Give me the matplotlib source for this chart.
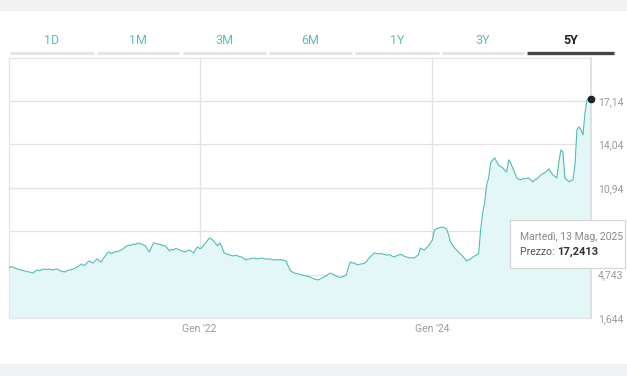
import matplotlib
matplotlib.use("Agg")
import matplotlib.pyplot as plt
from matplotlib.patches import Rectangle
import pandas as pd

plt.rcParams['font.family'] = ['Roboto', 'DejaVu Sans']

# ---- data ----
start_date = "2020-05-13"
end_date = "2025-05-13"
prices = [
    5.22, 5.30, 5.29, 5.20, 5.14, 5.12, 5.07, 5.03, 5.00, 4.95, 4.93, 4.90, 4.86, 4.98, 5.07, 5.02,
    5.07, 5.12, 5.14, 5.09, 5.14, 5.10, 5.07, 5.12, 5.14, 5.05, 5.00, 4.95, 4.93, 5.02, 5.07, 5.10,
    5.14, 5.20, 5.29, 5.38, 5.50, 5.40, 5.43, 5.60, 5.72, 5.62, 5.57, 5.75, 5.86, 5.70, 5.64, 5.90,
    6.07, 6.30, 6.36, 6.25, 6.29, 6.40, 6.36, 6.45, 6.50, 6.60, 6.72, 6.80, 6.86, 6.82, 6.93, 6.88,
    7.00, 6.95, 6.93, 6.85, 6.79, 6.55, 6.36, 6.70, 7.00, 6.98, 6.93, 6.90, 6.86, 6.80, 6.79, 6.60,
    6.43, 6.55, 6.50, 6.60, 6.57, 6.50, 6.43, 6.40, 6.36, 6.45, 6.50, 6.38, 6.29, 6.55, 6.72, 6.60,
    6.64, 6.85, 7.00, 7.20, 7.36, 7.25, 7.14, 6.95, 6.79, 7.00, 6.75, 6.35, 6.22, 6.20, 6.14, 6.10,
    6.07, 6.12, 6.07, 6.02, 6.00, 5.90, 5.79, 5.85, 5.86, 5.90, 5.93, 5.88, 5.86, 5.90, 5.93, 5.88,
    5.86, 5.84, 5.86, 5.82, 5.79, 5.80, 5.79, 5.81, 5.79, 5.76, 5.72, 5.40, 5.07, 4.95, 4.86, 4.82,
    4.79, 4.75, 4.71, 4.68, 4.64, 4.60, 4.57, 4.50, 4.43, 4.40, 4.36, 4.43, 4.50, 4.58, 4.64, 4.75,
    4.86, 4.78, 4.71, 4.64, 4.57, 4.55, 4.57, 4.62, 4.71, 5.20, 5.64, 5.58, 5.57, 5.48, 5.43, 5.50,
    5.50, 5.55, 5.64, 5.85, 6.00, 6.15, 6.29, 6.25, 6.22, 6.26, 6.22, 6.18, 6.14, 6.16, 6.14, 6.05,
    6.00, 6.08, 6.14, 6.18, 6.14, 6.05, 6.00, 5.96, 5.93, 5.95, 5.93, 6.05, 6.14, 6.64, 6.55, 6.50,
    6.65, 6.79, 7.00, 7.22, 7.93, 8.00, 8.07, 8.10, 8.14, 8.08, 8.00, 7.60, 7.07, 6.85, 6.64, 6.50,
    6.36, 6.20, 6.07, 5.90, 5.72, 5.80, 5.86, 5.98, 6.07, 6.15, 6.22, 7.93, 9.14, 9.86, 11.14, 11.64,
    12.71, 12.93, 13.07, 12.80, 12.57, 12.45, 12.36, 12.20, 12.07, 12.93, 12.70, 12.36, 12.00, 11.64, 11.55, 11.50,
    11.60, 11.57, 11.62, 11.64, 11.50, 11.36, 11.50, 11.57, 11.70, 11.86, 11.95, 12.00, 12.15, 12.29, 12.05, 11.86,
    11.75, 11.64, 12.79, 13.64, 13.50, 11.64, 11.50, 11.36, 11.45, 11.50, 12.57, 15.07, 15.29, 15.07, 14.71, 16.29,
    17.21, 17.43, 17.24,
]
y_ticks = [1.644, 4.743, 7.842, 10.94, 14.04, 17.14]
# the 7,842 label is hidden behind the tooltip in the reference
y_tick_labels = ["1,644", "4,743", "", "10,94", "14,04", "17,14"]
x_ticks = ["2022-01-01", "2024-01-01"]
x_tick_labels = ["Gen '22", "Gen '24"]
tabs = ["1D", "1M", "3M", "6M", "1Y", "3Y", "5Y"]
active_tab = "5Y"
tooltip_date = "Martedì, 13 Mag, 2025"
tooltip_price = "17,2413"

dates = pd.date_range(start_date, end_date, periods=len(prices))

W, H = 627, 376
fig = plt.figure(figsize=(W / 100, H / 100), dpi=100)
fig.patch.set_facecolor("white")

def fx(px):
    return px / W

def fy(py):
    return 1 - py / H

# background bands
fig.patches.append(Rectangle((0, fy(11)), 1, 11 / H, transform=fig.transFigure,
                             facecolor="#f1f2f4", edgecolor="none", zorder=0))
fig.patches.append(Rectangle((0, 0), 1, 12 / H, transform=fig.transFigure,
                             facecolor="#f1f2f4", edgecolor="none", zorder=0))

# main axes
ax = fig.add_axes([fx(9), fy(318), fx(591 - 9), (318 - 58) / H])
line_color = "#4fbdb4"
ax.fill_between(dates, prices, 0, color="#e4f7f7", zorder=1, linewidth=0)
ax.plot(dates, prices, color=line_color, linewidth=0.8, zorder=3)
ax.plot(dates[-1:], prices[-1:], "o", color="#222222", markersize=4.5, zorder=5, clip_on=False)

ax.set_xlim(dates[0], dates[-1])
ax.set_ylim(1.644, 20.2)
ax.set_yticks(y_ticks)
ax.set_yticklabels(y_tick_labels)
ax.yaxis.tick_right()
ax.set_xticks([pd.Timestamp(d) for d in x_ticks])
ax.set_xticklabels(x_tick_labels)
ax.tick_params(axis="both", length=0, labelsize=7.5, labelcolor="#9a9a9a")
ax.tick_params(axis="y", pad=5)
ax.tick_params(axis="x", pad=4)
ax.grid(True, color="#e2e2e2", linewidth=0.9, zorder=0)
ax.set_axisbelow(True)
for s in ax.spines.values():
    s.set_color("#e4e4e4")
    s.set_linewidth(0.9)
ax.spines["right"].set_color("#dcdcdc")
ax.spines["right"].set_linewidth(1.2)

# tabs
tab_bounds = [(10, 94), (97, 179), (183, 266), (269, 352), (355, 439), (442, 524), (527, 614)]
for name, (x0, x1) in zip(tabs, tab_bounds):
    active = name == active_tab
    fig.text(fx((x0 + x1) / 2), fy(40), name, ha="center", va="center", fontsize=9,
             color="#222222" if active else "#5bbfb8", fontweight="bold" if active else "normal")
    fig.add_artist(plt.Line2D([fx(x0), fx(x1)], [fy(53), fy(53)], transform=fig.transFigure,
                              color="#444444" if active else "#e4e4e4",
                              linewidth=2.4 if active else 2.0, solid_capstyle="butt"))

# tooltip overlay
ov = fig.add_axes([0, 0, 1, 1], zorder=10)
ov.set_xlim(0, W)
ov.set_ylim(H, 0)
ov.axis("off")
ov.add_patch(Rectangle((510, 220), 115, 48, facecolor="white", edgecolor="#d6d6d6", linewidth=0.9))
ov.text(520, 237, tooltip_date, ha="left", va="center", fontsize=7.5, color="#8a8a8a")
t1 = ov.text(520, 252, "Prezzo: ", ha="left", va="center", fontsize=7.5, color="#555555")
fig.canvas.draw()
bb = t1.get_window_extent()
x_end = ov.transData.inverted().transform((bb.x1, bb.y0))[0]
ov.text(x_end, 252, tooltip_price, ha="left", va="center", fontsize=8, color="#333333", fontweight="bold")

fig.savefig("out.png", dpi=100)
